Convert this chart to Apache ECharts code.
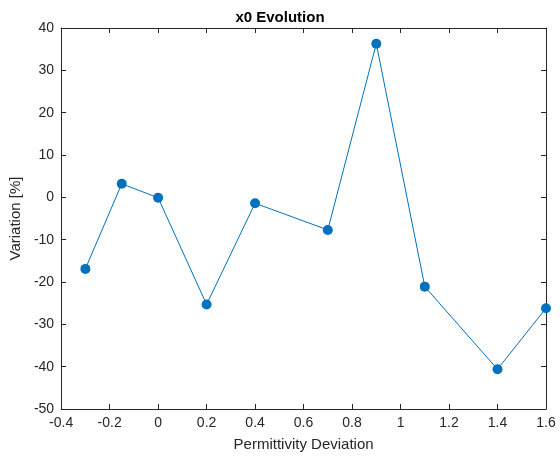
<!DOCTYPE html>
<html>
<head>
<meta charset="utf-8">
<script src="https://cdn.jsdelivr.net/npm/echarts@6/dist/echarts.min.js"></script>
<style>
  html, body { margin: 0; padding: 0; background: #fff; }
  #chart { width: 560px; height: 462px; }
</style>
</head>
<body>
<div id="chart"></div>
<script>
// permittivity deviation vs. x0 variation
const deviation = [-0.3, -0.15, 0, 0.2, 0.4, 0.7, 0.9, 1.1, 1.4, 1.6];
const variation = [-16.9, 3.2, -0.1, -25.3, -1.4, -7.7, 36.3, -21.1, -40.6, -26.2];

const axisColor = "#262626";
const lineColor = "#0072BD";
const font = "'Liberation Sans', Arial, Helvetica, sans-serif";

const points = deviation.map((x, i) => [x, variation[i]]);

const xCommon = {
	type: "value",
	min: -0.4,
	max: 1.6,
	interval: 0.2,
	axisLine: { show: true, onZero: false, lineStyle: { color: axisColor, width: 1 } },
	axisTick: { show: true, inside: true, length: 5, lineStyle: { color: axisColor } },
	splitLine: { show: false },
};
const yCommon = {
	type: "value",
	min: -50,
	max: 40,
	interval: 10,
	axisLine: { show: true, onZero: false, lineStyle: { color: axisColor, width: 1 } },
	axisTick: { show: true, inside: true, length: 5, lineStyle: { color: axisColor } },
	splitLine: { show: false },
};

const chart = echarts.init(document.getElementById("chart"), null, { renderer: "canvas" });

chart.setOption({
	animation: false,
	backgroundColor: "#fff",
	title: {
		text: "x0 Evolution",
		left: "center",
		top: 5,
		textStyle: { fontFamily: font, fontSize: 15, fontWeight: "bold", color: "#000" },
	},
	grid: { left: 61, right: 14, top: 28, bottom: 53 },
	xAxis: [
		{
			...xCommon,
			position: "bottom",
			name: "Permittivity Deviation",
			nameLocation: "middle",
			nameGap: 28,
			nameTextStyle: { fontFamily: font, fontSize: 15, color: axisColor },
			axisLabel: {
				fontFamily: font,
				fontSize: 14,
				color: axisColor,
				margin: 7,
				formatter: (v) => String(Math.round(v * 10) / 10),
			},
		},
		{ ...xCommon, position: "top", axisLabel: { show: false } },
	],
	yAxis: [
		{
			...yCommon,
			position: "left",
			name: "Variation [%]",
			nameLocation: "middle",
			nameGap: 31,
			nameTextStyle: { fontFamily: font, fontSize: 15, color: axisColor },
			axisLabel: { fontFamily: font, fontSize: 14, color: axisColor, margin: 7 },
		},
		{ ...yCommon, position: "right", axisLabel: { show: false } },
	],
	series: [
		{
			type: "line",
			data: points,
			xAxisIndex: 0,
			yAxisIndex: 0,
			symbol: "circle",
			symbolSize: 10,
			lineStyle: { color: lineColor, width: 1 },
			itemStyle: { color: lineColor },
		},
	],
});
</script>
</body>
</html>
